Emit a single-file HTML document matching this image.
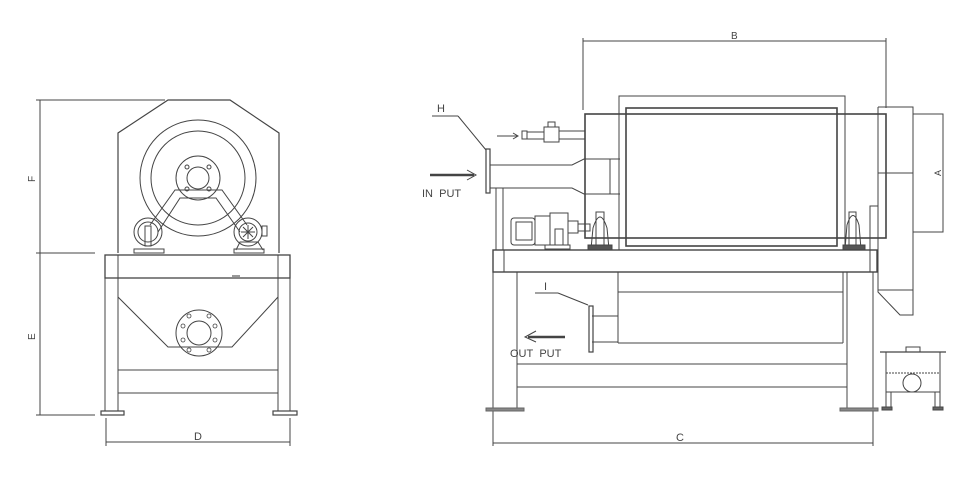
<!DOCTYPE html>
<html><head><meta charset="utf-8"><style>
html,body{margin:0;padding:0;background:#fff;}
svg{display:block;}
text{font-family:"Liberation Sans",sans-serif;fill:#444;}
</style></head><body>
<svg width="968" height="486" viewBox="0 0 968 486" xmlns="http://www.w3.org/2000/svg" fill="none" stroke="#444" stroke-width="1">
<!-- LEFT VIEW -->
<g>
<line x1="40" y1="100" x2="40" y2="415"/>
<line x1="36" y1="100" x2="165" y2="100"/>
<line x1="36" y1="253" x2="95" y2="253"/>
<line x1="36" y1="415" x2="95" y2="415"/>
<text x="35" y="182" font-size="10" transform="rotate(-90 35 182)" stroke="none">F</text>
<text x="35" y="340" font-size="10" transform="rotate(-90 35 340)" stroke="none">E</text>
<line x1="106" y1="418" x2="106" y2="446"/>
<line x1="290" y1="418" x2="290" y2="446"/>
<line x1="106" y1="442" x2="290" y2="442"/>
<text x="194" y="440" font-size="11" stroke="none">D</text>
<polyline points="118,253 118,133 168,100 230,100 279,133 279,253" stroke-width="1.2"/>
<circle cx="198" cy="178" r="58"/>
<circle cx="198" cy="178" r="47"/>
<circle cx="198" cy="178" r="22"/>
<circle cx="198" cy="178" r="11"/>
<circle cx="187" cy="167" r="2"/><circle cx="209" cy="167" r="2"/><circle cx="187" cy="189" r="2"/><circle cx="209" cy="189" r="2"/>
<polyline points="150,225 175,190 222,190 247,225"/>
<polyline points="158,232 180,198 216,198 240,232"/>
<circle cx="148" cy="232" r="14"/><circle cx="148" cy="232" r="10"/>
<rect x="145" y="226" width="6" height="20"/>
<rect x="134" y="249" width="30" height="4"/>
<circle cx="248" cy="232" r="14"/><circle cx="248" cy="232" r="9"/>
<line x1="241" y1="232" x2="255" y2="232"/><line x1="248" y1="225" x2="248" y2="239"/>
<line x1="243" y1="227" x2="253" y2="237"/><line x1="253" y1="227" x2="243" y2="237"/>
<rect x="262" y="226" width="5" height="10"/>
<path d="M236,250 L240,242 L258,242 L263,250"/>
<rect x="234" y="249" width="30" height="4"/>
<rect x="105" y="255" width="185" height="23" stroke-width="1.3"/>
<line x1="118" y1="255" x2="118" y2="278"/>
<line x1="278" y1="255" x2="278" y2="278"/>
<line x1="232" y1="276" x2="240" y2="276" stroke-width="1.5" stroke="#777"/>
<polyline points="118,297 168,347 232,347 278,297"/>
<circle cx="199" cy="333" r="23"/>
<circle cx="199" cy="333" r="12"/>
<g stroke-width="0.8">
<circle cx="189" cy="316" r="2"/><circle cx="209" cy="316" r="2"/><circle cx="183" cy="326" r="2"/><circle cx="215" cy="326" r="2"/>
<circle cx="183" cy="340" r="2"/><circle cx="215" cy="340" r="2"/><circle cx="189" cy="350" r="2"/><circle cx="209" cy="350" r="2"/>
</g>
<line x1="105" y1="278" x2="105" y2="411"/>
<line x1="118" y1="278" x2="118" y2="411"/>
<line x1="278" y1="278" x2="278" y2="411"/>
<line x1="290" y1="278" x2="290" y2="411"/>
<line x1="118" y1="370" x2="278" y2="370"/>
<line x1="118" y1="393" x2="278" y2="393"/>
<rect x="101" y="411" width="23" height="4" stroke-width="1.2"/>
<rect x="273" y="411" width="24" height="4" stroke-width="1.2"/>
</g>

<!-- RIGHT VIEW -->
<g>
<line x1="583" y1="41" x2="886" y2="41"/>
<line x1="583" y1="38" x2="583" y2="110"/>
<line x1="886" y1="38" x2="886" y2="108"/>
<text x="731" y="39" font-size="10" stroke="none">B</text>
<rect x="619" y="96" width="226" height="154"/>
<rect x="585" y="114" width="301" height="124" stroke-width="1.6"/>
<rect x="626" y="108" width="211" height="138" stroke-width="1.6"/>
<polyline points="878,107 913,107 913,315 900,315 878,292 878,107"/>
<line x1="886" y1="114" x2="886" y2="232"/>
<line x1="878" y1="173" x2="913" y2="173"/>
<line x1="878" y1="290" x2="913" y2="290"/>
<polyline points="913,114 943,114 943,232 913,232"/>
<text x="941" y="176" font-size="9" transform="rotate(-90 941 176)" stroke="none">A</text>
<polyline points="870,272 870,206 878,206"/>
<line x1="432" y1="116" x2="458" y2="116"/>
<line x1="458" y1="116" x2="486" y2="150"/>
<text x="437" y="112" font-size="11" stroke="none">H</text>
<rect x="486" y="149" width="4" height="44" stroke-width="1.2"/>
<path d="M490,165 L572,165 L584,159 L620,159 M490,188 L572,188 L584,194 L620,194 M610,159 L610,194"/>
<line x1="496" y1="188" x2="496" y2="250"/>
<line x1="503" y1="188" x2="503" y2="250"/>
<path d="M430,175 L474,175" stroke-width="2.5"/>
<path d="M467,170 L476,175 L467,180"/>
<text x="422" y="197" font-size="11" stroke="none">IN&#160;&#160;PUT</text>
<path d="M497,136 L517,136" /><path d="M513,133 L518,136 L513,139"/>
<rect x="522" y="131" width="5" height="8"/>
<rect x="527" y="132" width="17" height="7"/>
<rect x="544" y="127" width="15" height="15"/>
<rect x="548" y="122" width="7" height="5"/>
<line x1="559" y1="131" x2="585" y2="131"/><line x1="559" y1="139" x2="585" y2="139"/>
<rect x="511" y="218" width="24" height="27" rx="3"/>
<rect x="516" y="222" width="16" height="18"/>
<rect x="535" y="216" width="15" height="29"/>
<rect x="550" y="213" width="18" height="32"/>
<rect x="555" y="229" width="8" height="16"/>
<rect x="568" y="221" width="10" height="12"/>
<rect x="578" y="224" width="12" height="7"/>
<rect x="545" y="245" width="25" height="4"/>
<path d="M591,249 L593,228 Q600,206 607,228 L609,249 Z"/>
<rect x="596" y="212" width="8" height="34"/>
<rect x="588" y="245" width="24" height="5" fill="#555"/>
<path d="M845,249 L847,225 Q853,206 859,225 L861,249 Z"/>
<rect x="849" y="212" width="7" height="34"/>
<rect x="843" y="245" width="22" height="5" fill="#555"/>
<rect x="493" y="250" width="384" height="22" stroke-width="1.4"/>
<line x1="504" y1="250" x2="504" y2="272"/>
<line x1="493" y1="272" x2="493" y2="446"/>
<line x1="517" y1="272" x2="517" y2="409"/>
<line x1="847" y1="272" x2="847" y2="409"/>
<line x1="873" y1="272" x2="873" y2="446"/>
<line x1="517" y1="364" x2="847" y2="364"/>
<line x1="517" y1="387" x2="847" y2="387"/>
<rect x="486" y="408" width="38" height="3" fill="#888" stroke="#666"/>
<rect x="840" y="408" width="38" height="3" fill="#888" stroke="#666"/>
<line x1="493" y1="443" x2="873" y2="443"/>
<text x="676" y="441" font-size="11" stroke="none">C</text>
<line x1="618" y1="272" x2="618" y2="343"/>
<line x1="618" y1="292" x2="843" y2="292"/>
<line x1="618" y1="343" x2="843" y2="343"/>
<line x1="843" y1="272" x2="843" y2="343"/>
<line x1="592" y1="316" x2="618" y2="316"/>
<line x1="592" y1="342" x2="618" y2="342"/>
<rect x="589" y="306" width="4" height="46" stroke-width="1.2"/>
<line x1="535" y1="293" x2="558" y2="293"/>
<line x1="558" y1="293" x2="588" y2="305"/>
<text x="544" y="290" font-size="11" stroke="none">I</text>
<path d="M528,337 L565,337" stroke-width="2.5"/>
<path d="M536,331 L525,337 L536,342"/>
<text x="510" y="357" font-size="11" stroke="none">OUT&#160;&#160;PUT</text>
<line x1="880" y1="352" x2="946" y2="352" stroke-width="1.3"/>
<rect x="906" y="347" width="14" height="5"/>
<line x1="886" y1="352" x2="886" y2="408"/>
<line x1="940" y1="352" x2="940" y2="408"/>
<line x1="886" y1="373" x2="940" y2="373" stroke-dasharray="2,1"/>
<line x1="886" y1="392" x2="940" y2="392"/>
<circle cx="912" cy="383" r="9"/>
<line x1="891" y1="392" x2="891" y2="408"/>
<line x1="935" y1="392" x2="935" y2="408"/>
<rect x="882" y="407" width="10" height="3" fill="#666"/>
<rect x="933" y="407" width="10" height="3" fill="#666"/>
</g>
</svg>
</body></html>
